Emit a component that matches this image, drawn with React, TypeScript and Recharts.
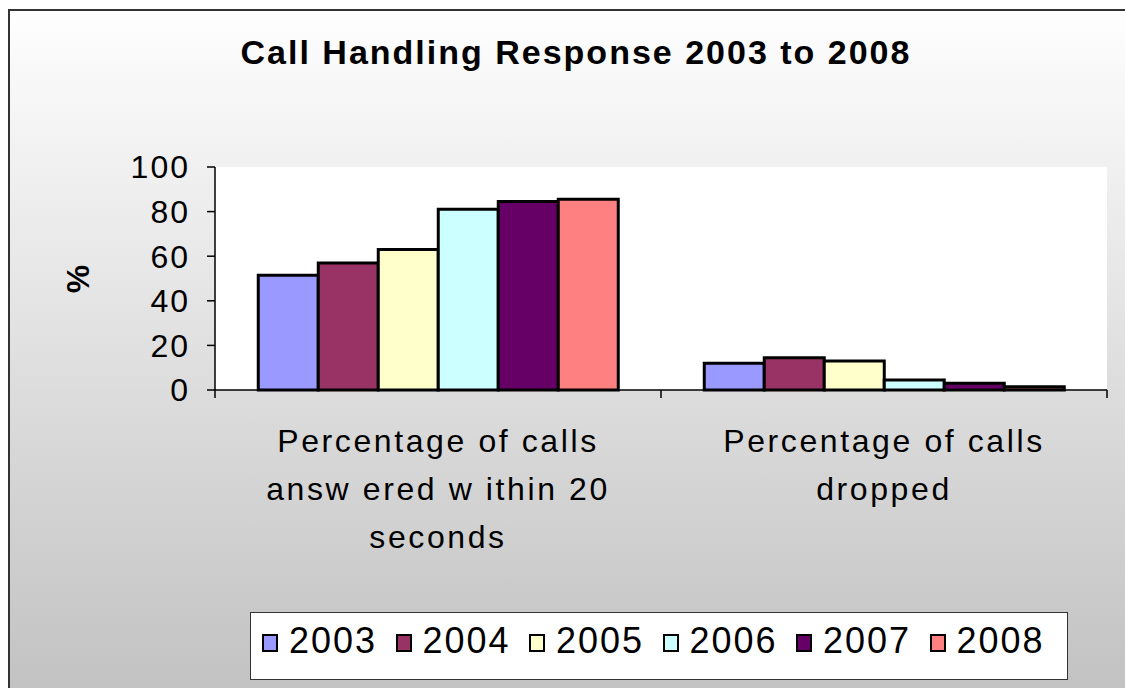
import { BarChart, Bar, XAxis, YAxis, CartesianGrid } from 'recharts'

const categories = ['answered', 'dropped']
const categoryLines = [
  ['Percentage of calls', 'answ ered w ithin 20', 'seconds'],
  ['Percentage of calls', 'dropped'],
]
const years = ['2003', '2004', '2005', '2006', '2007', '2008']
const colors = ['#9999FF', '#993366', '#FFFFCC', '#CCFFFF', '#660066', '#FF8080']
const answeredWithin20 = [51.5, 57, 63, 81, 84.5, 85.5]
const droppedCalls = [12, 14.5, 13, 4.5, 3, 1.5]
const yTicks = [0, 20, 40, 60, 80, 100]

const seriesByCategory = [answeredWithin20, droppedCalls]
const data = categories.map((name, ci) => {
  const row: Record<string, string | number> = { name }
  years.forEach((y, yi) => {
    row[y] = seriesByCategory[ci][yi]
  })
  return row
})

const W = 1125
const H = 688
const FONT = '"Liberation Sans", Arial, sans-serif'
const margin = { top: 167, right: 18, left: 135, bottom: 98 }
const Y_AXIS_W = 80
const X_AXIS_H = 200
const PLOT_W = W - margin.left - margin.right - Y_AXIS_W
const halfBand = PLOT_W / categories.length / 2

function CategoryTick(props: any) {
  const { x, y, index } = props
  const lines = categoryLines[index] || []
  return (
    <g>
      <line x1={x - halfBand} x2={x - halfBand} y1={y} y2={y + 8} stroke="#000" strokeWidth={1.5} />
      {index === categories.length - 1 && (
        <line x1={x + halfBand} x2={x + halfBand} y1={y} y2={y + 8} stroke="#000" strokeWidth={1.5} />
      )}
      <text textAnchor="middle" fontSize={32} fill="#000" style={{ fontFamily: FONT, letterSpacing: 2.6 }}>
        {lines.map((l, i) => (
          <tspan key={i} x={x} y={y + 62 + i * 48}>
            {l}
          </tspan>
        ))}
      </text>
    </g>
  )
}

export default function App() {
  return (
    <div style={{ position: 'fixed', left: 0, top: 0, width: W, height: H, background: '#fff', overflow: 'hidden', fontFamily: FONT }}>
      <div
        style={{
          position: 'absolute',
          left: 8,
          top: 9,
          width: W,
          height: H,
          borderTop: '2px solid #333',
          borderLeft: '2px solid #333',
          background: 'linear-gradient(#fefefe, #c2c2c2 679px)',
        }}
      />
      <div
        style={{
          position: 'absolute',
          left: 0,
          width: 1152,
          top: 32,
          textAlign: 'center',
          fontSize: 34,
          fontWeight: 'bold',
          letterSpacing: 2,
          lineHeight: '40px',
          color: '#000',
        }}
      >
        Call Handling Response 2003 to 2008
      </div>
      <div
        style={{
          position: 'absolute',
          left: 78,
          top: 279,
          transform: 'translate(-50%, -50%) rotate(-90deg)',
          fontSize: 32,
          fontWeight: 'bold',
          lineHeight: '36px',
          color: '#000',
        }}
      >
        %
      </div>
      <div style={{ position: 'absolute', left: 0, top: 0 }}>
        <BarChart width={W} height={H} data={data} margin={margin} barCategoryGap="9.7%" barGap={0}>
          <CartesianGrid fill="#fff" stroke="none" horizontal={false} vertical={false} />
          <XAxis
            dataKey="name"
            height={X_AXIS_H}
            interval={0}
            tickLine={false}
            tickSize={0}
            tickMargin={0}
            axisLine={{ stroke: '#000', strokeWidth: 1.5 }}
            tick={<CategoryTick />}
          />
          <YAxis
            width={Y_AXIS_W}
            domain={[0, 100]}
            ticks={yTicks}
            interval={0}
            tickSize={8}
            tickMargin={17}
            axisLine={{ stroke: '#000', strokeWidth: 1.5 }}
            tickLine={{ stroke: '#000', strokeWidth: 1.5 }}
            tick={{ fontSize: 32, fill: '#000', fontFamily: FONT, letterSpacing: 2 }}
          />
          {years.map((y, i) => (
            <Bar key={y} dataKey={y} fill={colors[i]} stroke="#000" strokeWidth={3} isAnimationActive={false} />
          ))}
        </BarChart>
      </div>
      <div
        style={{
          position: 'absolute',
          left: 250,
          top: 612,
          width: 816,
          height: 66,
          border: '1px solid #333',
          background: '#fff',
        }}
      >
        <div style={{ position: 'absolute', left: 11, top: 8, display: 'flex', alignItems: 'center', height: 40 }}>
          {years.map((y, i) => (
            <div key={y} style={{ display: 'flex', alignItems: 'center', width: 133.5 }}>
              <span
                style={{
                  display: 'inline-block',
                  width: 12,
                  height: 14,
                  background: colors[i],
                  border: '2px solid #000',
                  marginRight: 11,
                  marginTop: 3,
                }}
              />
              <span style={{ fontSize: 36, letterSpacing: 2, lineHeight: '40px', color: '#000' }}>{y}</span>
            </div>
          ))}
        </div>
      </div>
    </div>
  )
}
